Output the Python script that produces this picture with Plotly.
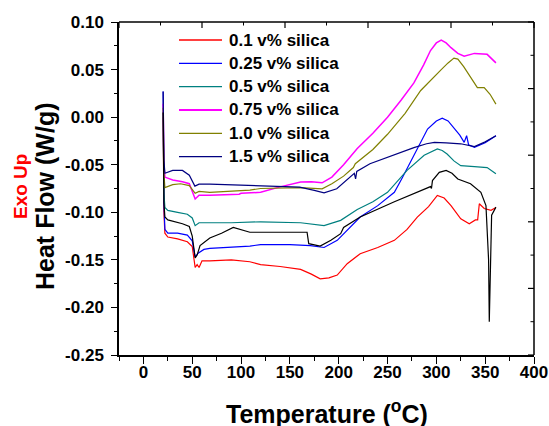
import plotly.graph_objects as go

# ---- data (Temperature in °C, Heat Flow in W/g) ----
t_01 = [20.2, 21.0, 22, 25, 35, 45, 50, 53, 55, 57, 60, 68, 90, 109, 120, 140, 161, 172, 181, 190, 198.5, 208.7, 222, 240, 257, 270, 280.5, 292, 301, 308, 315, 325, 333.7, 340, 342.3, 344, 349, 356, 361]
hf_01 = [0.000, -0.100, -0.122, -0.126, -0.128, -0.131, -0.136, -0.158, -0.155, -0.158, -0.151, -0.151, -0.150, -0.152, -0.155, -0.157, -0.160, -0.165, -0.170, -0.169, -0.166, -0.154, -0.1435, -0.137, -0.1295, -0.118, -0.105, -0.094, -0.0823, -0.085, -0.093, -0.1068, -0.112, -0.108, -0.108, -0.091, -0.096, -0.098, -0.095]

t_025 = [20.2, 21.0, 22, 25, 35, 45, 50, 53, 56, 62, 68, 90, 109, 120, 150, 171, 185, 198.5, 210, 222, 240, 257, 265, 274, 283, 291, 300, 306, 312, 318, 324, 328.5, 331, 333, 339, 350, 361]
hf_025 = [0.027, -0.090, -0.118, -0.122, -0.122, -0.124, -0.130, -0.147, -0.143, -0.139, -0.138, -0.137, -0.1355, -0.134, -0.134, -0.135, -0.137, -0.1295, -0.118, -0.105, -0.093, -0.079, -0.064, -0.0457, -0.028, -0.0125, -0.004, -0.001, -0.004, -0.011, -0.019, -0.0265, -0.0195, -0.029, -0.0317, -0.027, -0.0195]

t_05 = [20.2, 21.0, 22, 25, 35, 45, 50, 53, 57, 68, 90, 120, 161, 185, 202, 219, 235, 250, 270, 287.5, 301, 306, 311, 318, 325, 339, 352, 361]
hf_05 = [0.005, -0.080, -0.095, -0.098, -0.100, -0.102, -0.106, -0.114, -0.111, -0.111, -0.111, -0.110, -0.111, -0.114, -0.1085, -0.097, -0.089, -0.079, -0.056, -0.040, -0.0334, -0.035, -0.0387, -0.046, -0.051, -0.052, -0.053, -0.0596]

t_075 = [20.2, 21.0, 22, 30, 40, 47, 53, 57, 68, 98, 100, 120, 140, 161, 172, 183, 193, 205, 219, 235, 250, 264, 277, 287, 294, 300, 305, 310, 315, 322, 328.5, 334, 339, 352, 361]
hf_075 = [0.014, -0.050, -0.063, -0.066, -0.068, -0.070, -0.086, -0.082, -0.082, -0.081, -0.080, -0.079, -0.0733, -0.0682, -0.068, -0.069, -0.063, -0.050, -0.033, -0.017, 0.000, 0.018, 0.036, 0.055, 0.070, 0.078, 0.081, 0.078, 0.073, 0.067, 0.064, 0.066, 0.067, 0.066, 0.057]

t_10 = [20.2, 21.0, 22, 30, 38, 47, 53, 57, 68, 109, 120, 161, 183, 193, 205, 215, 217, 235, 250, 268, 284, 297, 305, 312, 318, 322, 328, 335, 342, 349, 355, 361]
hf_10 = [0.010, -0.060, -0.074, -0.071, -0.070, -0.072, -0.080, -0.078, -0.079, -0.0767, -0.075, -0.074, -0.0753, -0.070, -0.062, -0.053, -0.049, -0.034, -0.018, 0.004, 0.028, 0.042, 0.050, 0.057, 0.062, 0.061, 0.053, 0.042, 0.031, 0.031, 0.024, 0.0137]

t_15 = [20.2, 21.0, 22, 30, 40, 47, 52.7, 57, 68, 120, 160, 175, 185, 198, 210, 216, 217.3, 218.5, 232, 245, 256, 277, 290, 298, 310, 325, 339, 350, 361]
hf_15 = [0.027, -0.045, -0.059, -0.056, -0.056, -0.061, -0.0725, -0.0704, -0.0705, -0.072, -0.0735, -0.077, -0.0795, -0.0753, -0.064, -0.059, -0.065, -0.057, -0.049, -0.044, -0.040, -0.032, -0.028, -0.0265, -0.027, -0.028, -0.031, -0.026, -0.0195]

t_blk = [20.2, 21.0, 22, 25, 40, 47, 50, 53, 55, 58, 68, 80, 92, 109, 120, 167.6, 169.3, 181, 192, 202, 205, 222, 257, 294, 295, 296, 303, 310, 316, 322, 335, 345.6, 350.8, 353.5, 354.2, 355.2, 356.6, 361]
hf_blk = [0.005, -0.090, -0.105, -0.108, -0.112, -0.115, -0.125, -0.148, -0.145, -0.135, -0.127, -0.122, -0.116, -0.121, -0.121, -0.121, -0.133, -0.1355, -0.1295, -0.1225, -0.116, -0.105, -0.089, -0.073, -0.075, -0.0667, -0.058, -0.056, -0.059, -0.065, -0.070, -0.079, -0.093, -0.150, -0.215, -0.150, -0.103, -0.0946]

series = [
    ("0.1 v% silica", t_01, hf_01, "#FF0000", True),
    ("0.25 v% silica", t_025, hf_025, "#0000FF", True),
    ("0.5 v% silica", t_05, hf_05, "#008080", True),
    ("0.75 v% silica", t_075, hf_075, "#FF00FF", True),
    ("1.0 v% silica", t_10, hf_10, "#808000", True),
    ("1.5 v% silica", t_15, hf_15, "#000080", True),
    ("unlabelled", t_blk, hf_blk, "#000000", False),
]

x_ticks = [0, 50, 100, 150, 200, 250, 300, 350, 400]
y_ticks = [0.10, 0.05, 0.00, -0.05, -0.10, -0.15, -0.20, -0.25]
frame_ticks = [0, 1, 2, 3, 4, 5]          # top / right frame: 5 major divisions
frame_minor = [0.5, 1.5, 2.5, 3.5, 4.5]

FONT = "Arial, Liberation Sans, sans-serif"

# plot-area geometry in pixels
W, H = 549, 426
ML, MR, MT, MB = 119, 15, 22, 71
PW, PH = W - ML - MR, H - MT - MB


def px_x(px):
    return (px - ML) / PW


def px_y(py):
    return (H - MB - py) / PH


fig = go.Figure()
for name, t, hf, col, show in series:
    fig.add_trace(go.Scatter(
        x=t, y=hf, mode="lines", name=name, showlegend=False,
        line=dict(color=col, width=1.5 if col == "#FF00FF" else 1.2),
        hoverinfo="x+y+name",
    ))

# frame lines (top and right sides of the plot area)
shapes = [
    dict(type="line", xref="paper", yref="paper", x0=0, x1=1, y0=1, y1=1,
         line=dict(color="black", width=1.5), layer="above"),
    dict(type="line", xref="paper", yref="paper", x0=1, x1=1, y0=0, y1=1,
         line=dict(color="black", width=1.5), layer="above"),
]

# top/right frame ticks: 5 major + 5 minor divisions, pointing inward
for k in frame_ticks:
    f = k / 5
    shapes.append(dict(type="line", xref="paper", yref="paper", x0=f, x1=f,
                       y0=1, y1=1 - 6 / PH, line=dict(color="black", width=1.2)))
    shapes.append(dict(type="line", xref="paper", yref="paper", y0=f, y1=f,
                       x0=1, x1=1 - 6 / PW, line=dict(color="black", width=1.2)))
for k in frame_minor:
    f = k / 5
    shapes.append(dict(type="line", xref="paper", yref="paper", x0=f, x1=f,
                       y0=1, y1=1 - 3.5 / PH, line=dict(color="black", width=1)))
    shapes.append(dict(type="line", xref="paper", yref="paper", y0=f, y1=f,
                       x0=1, x1=1 - 3.5 / PW, line=dict(color="black", width=1)))

# legend drawn as text + sample lines (matches the reference's tight spacing)
annotations = []
row0, row_gap = 40.0, 23.33
i = 0
for name, t, hf, col, show in series:
    if not show:
        continue
    py = row0 + i * row_gap
    shapes.append(dict(type="line", xref="paper", yref="paper",
                       x0=px_x(179), x1=px_x(222), y0=px_y(py), y1=px_y(py),
                       line=dict(color=col, width=2 if col == "#FF00FF" else 1.3)))
    annotations.append(dict(text=name, xref="paper", yref="paper",
                            x=px_x(227), y=px_y(py), xanchor="left", yanchor="middle",
                            showarrow=False,
                            font=dict(family=FONT, size=17, color="black", weight="bold")))
    i += 1

annotations += [
    dict(text="Temperature (<sup>o</sup>C)", xref="paper", yref="paper",
         x=px_x(327), y=px_y(412), xanchor="center", yanchor="middle", showarrow=False,
         font=dict(family=FONT, size=25, color="black", weight="bold")),
    dict(text="Heat Flow (W/g)", xref="paper", yref="paper",
         x=px_x(45), y=px_y(197), xanchor="center", yanchor="middle", showarrow=False,
         textangle=-90,
         font=dict(family=FONT, size=25, color="black", weight="bold")),
    dict(text="Exo Up", xref="paper", yref="paper",
         x=px_x(20), y=px_y(187), xanchor="center", yanchor="middle", showarrow=False,
         textangle=-90,
         font=dict(family=FONT, size=19, color="#FF0000", weight="bold")),
]

fig.update_layout(
    width=W, height=H,
    margin=dict(l=ML, r=MR, t=MT, b=MB, autoexpand=False),
    paper_bgcolor="white", plot_bgcolor="white",
    font=dict(family=FONT, color="black"),
    showlegend=False,
    xaxis=dict(
        range=[-25, 400], tickvals=x_ticks, ticktext=[str(v) for v in x_ticks],
        ticks="outside", ticklen=7, tickwidth=1.2, tickcolor="black",
        minor=dict(dtick=25, tick0=0, ticks="outside", ticklen=4, tickwidth=1, tickcolor="black"),
        showline=True, linecolor="black", linewidth=1.5,
        showgrid=False, zeroline=False, automargin=False,
        tickfont=dict(family=FONT, size=17, color="black", weight="bold"),
        ticklabelstandoff=-6,
    ),
    yaxis=dict(
        range=[-0.25, 0.10], tickvals=y_ticks, ticktext=[f"{v:.2f}" for v in y_ticks],
        ticks="outside", ticklen=6, tickwidth=1.2, tickcolor="black",
        minor=dict(dtick=0.025, tick0=0, ticks="outside", ticklen=3, tickwidth=1, tickcolor="black"),
        showline=True, linecolor="black", linewidth=1.5,
        showgrid=False, zeroline=False, automargin=False,
        tickfont=dict(family=FONT, size=17, color="black", weight="bold"),
        ticklabelstandoff=4,
    ),
    annotations=annotations,
    shapes=shapes,
)

fig.write_html("out.html", config={"displayModeBar": False},
               post_script="document.body.style.margin='0';document.body.style.padding='0';")
